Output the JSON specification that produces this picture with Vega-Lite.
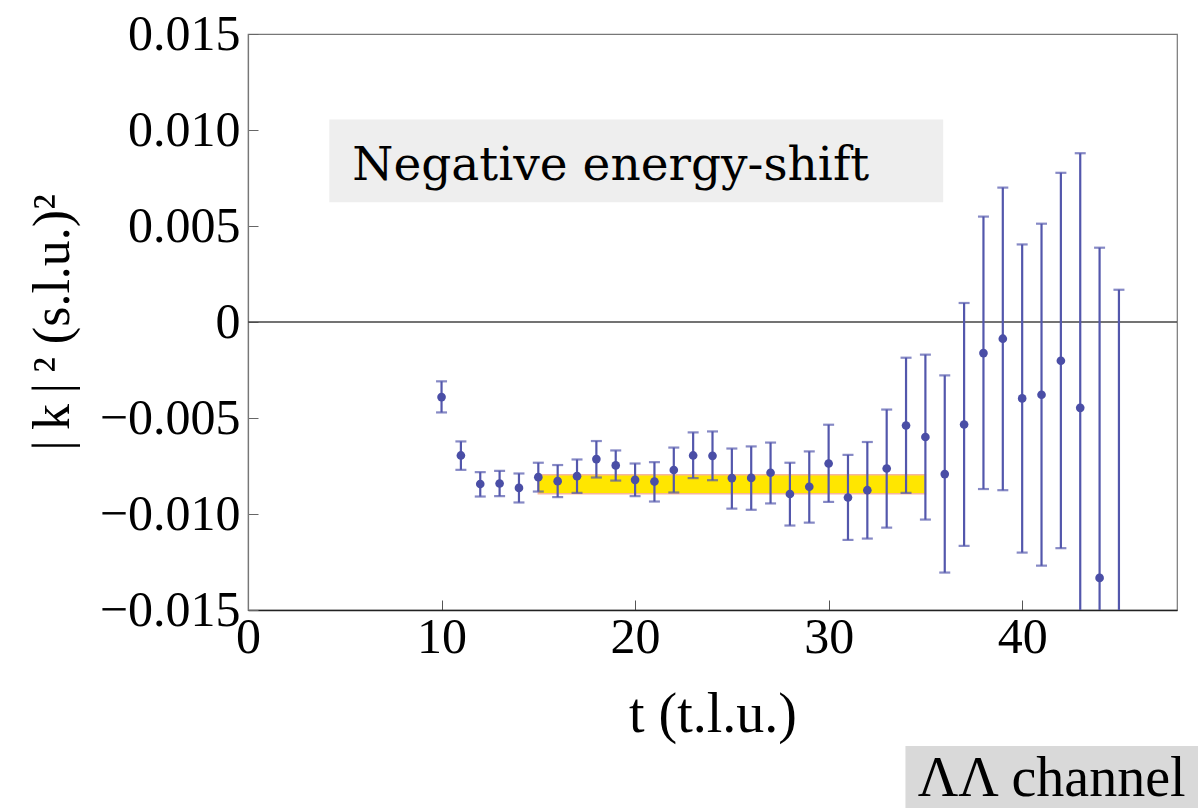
{
  "$schema": "https://vega.github.io/schema/vega-lite/v6.json",
  "width": 929,
  "height": 576,
  "autosize": {"type": "none"},
  "padding": {"left": 248, "top": 34, "right": 21, "bottom": 198},
  "background": "white",
  "config": {
    "view": {"stroke": "#777777", "strokeWidth": 1.2},
    "axis": {"grid": false, "labelFont": "Liberation Serif", "titleFont": "Liberation Serif", "labelColor": "black", "titleColor": "black", "titleFontWeight": "normal"}
  },
  "data": {"values": [
    {"t": 10, "v": -0.00391, "hi": -0.00309, "lo": -0.00471},
    {"t": 11, "v": -0.00695, "hi": -0.00622, "lo": -0.00770},
    {"t": 12, "v": -0.00844, "hi": -0.00782, "lo": -0.00909},
    {"t": 13, "v": -0.00841, "hi": -0.00775, "lo": -0.00907},
    {"t": 14, "v": -0.00864, "hi": -0.00789, "lo": -0.00940},
    {"t": 15, "v": -0.00808, "hi": -0.00733, "lo": -0.00883},
    {"t": 16, "v": -0.00829, "hi": -0.00745, "lo": -0.00912},
    {"t": 17, "v": -0.00803, "hi": -0.00716, "lo": -0.00890},
    {"t": 18, "v": -0.00714, "hi": -0.00620, "lo": -0.00810},
    {"t": 19, "v": -0.00747, "hi": -0.00669, "lo": -0.00826},
    {"t": 20, "v": -0.00822, "hi": -0.00737, "lo": -0.00907},
    {"t": 21, "v": -0.00831, "hi": -0.00730, "lo": -0.00935},
    {"t": 22, "v": -0.00771, "hi": -0.00654, "lo": -0.00888},
    {"t": 23, "v": -0.00695, "hi": -0.00575, "lo": -0.00813},
    {"t": 24, "v": -0.00697, "hi": -0.00570, "lo": -0.00824},
    {"t": 25, "v": -0.00813, "hi": -0.00659, "lo": -0.00972},
    {"t": 26, "v": -0.00812, "hi": -0.00648, "lo": -0.00978},
    {"t": 27, "v": -0.00785, "hi": -0.00628, "lo": -0.00945},
    {"t": 28, "v": -0.00896, "hi": -0.00733, "lo": -0.01060},
    {"t": 29, "v": -0.00858, "hi": -0.00674, "lo": -0.01045},
    {"t": 30, "v": -0.00737, "hi": -0.00535, "lo": -0.00937},
    {"t": 31, "v": -0.00914, "hi": -0.00692, "lo": -0.01135},
    {"t": 32, "v": -0.00876, "hi": -0.00625, "lo": -0.01128},
    {"t": 33, "v": -0.00763, "hi": -0.00456, "lo": -0.01071},
    {"t": 34, "v": -0.00539, "hi": -0.00186, "lo": -0.00890},
    {"t": 35, "v": -0.00599, "hi": -0.00170, "lo": -0.01029},
    {"t": 36, "v": -0.00792, "hi": -0.00278, "lo": -0.01305},
    {"t": 37, "v": -0.00534, "hi": 0.00099, "lo": -0.01166},
    {"t": 38, "v": -0.00162, "hi": 0.00549, "lo": -0.00870},
    {"t": 39, "v": -0.00087, "hi": 0.00700, "lo": -0.00876},
    {"t": 40, "v": -0.00398, "hi": 0.00404, "lo": -0.01201},
    {"t": 41, "v": -0.00379, "hi": 0.00512, "lo": -0.01269},
    {"t": 42, "v": -0.00202, "hi": 0.00777, "lo": -0.01178},
    {"t": 43, "v": -0.00447, "hi": 0.00879, "lo": -0.01772},
    {"t": 44, "v": -0.01333, "hi": 0.00387, "lo": -0.03053},
    {"t": 45, "v": -0.01650, "hi": 0.00168, "lo": -0.03468}
  ]},
  "layer": [
    {
      "data": {"values": [{}]},
      "layer": [
        {
          "mark": {"type": "rect", "color": "#EEEEEE"},
          "encoding": {"x": {"datum": 4.2}, "x2": {"datum": 35.92}, "y": {"datum": 0.010544}, "y2": {"datum": 0.006233}}
        },
        {
          "mark": {"type": "text", "text": "Negative energy-shift", "font": "DejaVu Serif", "fontSize": 47, "align": "left", "baseline": "alphabetic", "color": "black"},
          "encoding": {"x": {"datum": 5.39}, "y": {"datum": 0.00742}}
        },
        {
          "mark": {"type": "rule", "color": "#444444", "strokeWidth": 1.3},
          "encoding": {"y": {"datum": 0}}
        },
        {
          "mark": {"type": "rect", "color": "#FFE600", "stroke": "#F6B69C", "strokeWidth": 1.5},
          "encoding": {"x": {"datum": 15}, "x2": {"datum": 35}, "y": {"datum": -0.00795}, "y2": {"datum": -0.00895}}
        },
        {
          "mark": {"type": "rect", "color": "#D9D9D9", "clip": false},
          "encoding": {"x": {"datum": 33.97}, "x2": {"datum": 49.1}, "y": {"datum": -0.022083}, "y2": {"datum": -0.02531}}
        },
        {
          "mark": {"type": "text", "text": "ΛΛ channel", "font": "Liberation Serif", "fontSize": 56, "align": "left", "baseline": "bottom", "color": "black", "clip": false},
          "encoding": {"x": {"datum": 34.6}, "y": {"datum": -0.02530}}
        }
      ]
    },
    {
      "mark": {"type": "rule", "strokeWidth": 2.2, "color": "#5357AC", "clip": true},
      "encoding": {
        "x": {"field": "t", "type": "quantitative", "scale": {"domain": [0, 48], "nice": false, "zero": false},
          "axis": {"values": [0, 10, 20, 30, 40], "format": "d", "title": "t (t.l.u.)", "labelFontSize": 50, "titleFontSize": 56, "tickSize": -10, "tickColor": "#555555", "domainColor": "#222222", "domainWidth": 1.5, "labelPadding": 12, "titlePadding": 25, "labelFlush": false}},
        "y": {"field": "hi", "type": "quantitative", "scale": {"domain": [-0.015, 0.015], "nice": false, "zero": false},
          "axis": {"values": [-0.015, -0.01, -0.005, 0, 0.005, 0.01, 0.015], "labelExpr": "datum.value == 0 ? '0' : format(datum.value, '.3f')", "title": "|\u2009k\u2009|\u2009² (s.l.u.)²", "labelFontSize": 50, "titleFontSize": 52, "tickSize": -10, "tickColor": "#666666", "domainColor": "#777777", "domainWidth": 1.2, "labelPadding": 18, "titlePadding": 20, "labelFlush": false}},
        "y2": {"field": "lo"}
      }
    },
    {
      "mark": {"type": "tick", "orient": "horizontal", "size": 11, "thickness": 2.2, "color": "#5357AC", "clip": true},
      "encoding": {
        "x": {"field": "t", "type": "quantitative"},
        "y": {"field": "hi", "type": "quantitative"}
      }
    },
    {
      "mark": {"type": "tick", "orient": "horizontal", "size": 11, "thickness": 2.2, "color": "#5357AC", "clip": true},
      "encoding": {
        "x": {"field": "t", "type": "quantitative"},
        "y": {"field": "lo", "type": "quantitative"}
      }
    },
    {
      "mark": {"type": "point", "filled": true, "shape": "circle", "size": 75, "color": "#4A4EA6", "opacity": 1, "clip": true},
      "encoding": {
        "x": {"field": "t", "type": "quantitative"},
        "y": {"field": "v", "type": "quantitative"}
      }
    }
  ]
}
